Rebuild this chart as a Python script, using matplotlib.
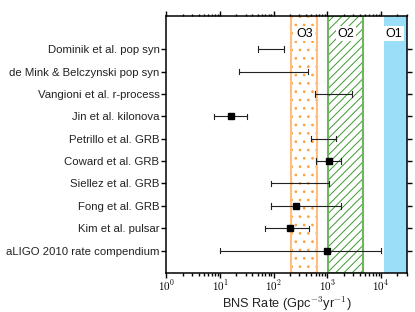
import matplotlib
matplotlib.use("Agg")
import matplotlib.pyplot as plt
import matplotlib.transforms as mtransforms
import numpy as np

plt.rcParams['font.family'] = ['Liberation Sans', 'DejaVu Sans']
plt.rcParams['mathtext.fontset'] = 'cm'
plt.rcParams['hatch.linewidth'] = 0.7

# estimates, listed top to bottom
labels = ["Dominik et al. pop syn", "de Mink & Belczynski pop syn",
          "Vangioni et al. r-process", "Jin et al. kilonova",
          "Petrillo et al. GRB", "Coward et al. GRB", "Siellez et al. GRB",
          "Fong et al. GRB", "Kim et al. pulsar", "aLIGO 2010 rate compendium"]
rate_lo = [50, 23, 580, 7.7, 490, 600, 88, 87, 69, 10]
rate_hi = [158, 435, 2840, 32, 1440, 1780, 1080, 1780, 460, 10000]
rate_mid = [None, None, None, 15.7, None, 1065, None, 260, 200, 1000]

# observing run bands
run_names = ["O3", "O2", "O1"]
run_lo = [210, 1020, 11300]
run_hi = [650, 4650, 3e4]

fig = plt.figure(figsize=(4.15, 3.12), dpi=100)
ax = fig.add_axes([0.401, 0.125, 0.579, 0.825])

n = len(labels)
ypos = np.arange(n)[::-1]

# O3: dotted orange band
ax.axvspan(run_lo[0], run_hi[0], facecolor='none', edgecolor='#FF9F3A',
           hatch='..', linewidth=0, zorder=1)
ax.axvspan(run_lo[0], run_hi[0], facecolor='none', edgecolor='#FFBE7E',
           linewidth=1.5, zorder=1)
# O2: hatched green band
ax.axvspan(run_lo[1], run_hi[1], facecolor='none', edgecolor='#3E9A2E',
           hatch='////', linewidth=0, zorder=1)
ax.axvspan(run_lo[1], run_hi[1], facecolor='none', edgecolor='#6DB560',
           linewidth=1.5, zorder=1)
# O1: solid blue
ax.axvspan(run_lo[2], run_hi[2], facecolor='#9ADEF8', edgecolor='none', zorder=1)

trans = mtransforms.blended_transform_factory(ax.transData, ax.transAxes)
for name, lo, hi in zip(run_names, run_lo, run_hi):
    xc = np.sqrt(lo * min(hi, 2.6e4))
    ax.text(xc, 0.93, name, transform=trans, ha='center', va='center',
            fontsize=9, zorder=3,
            bbox=dict(facecolor='white', edgecolor='none', pad=1.2))

for y, lo, hi, mid in zip(ypos, rate_lo, rate_hi, rate_mid):
    ax.plot([lo, hi], [y, y], color='#222222', lw=0.8, zorder=4)
    ax.plot([lo, lo], [y - 0.12, y + 0.12], color='#222222', lw=0.8, zorder=4)
    ax.plot([hi, hi], [y - 0.12, y + 0.12], color='#222222', lw=0.8, zorder=4)
    if mid is not None:
        ax.plot([mid], [y], 's', color='black', markersize=4, zorder=5)

ax.set_xscale('log')
ax.set_xlim(1, 3e4)
ax.set_ylim(-1, 10.5)
ax.set_yticks(ypos)
ax.set_yticklabels(labels, fontsize=8.2, color='#222222')
ax.set_xticks([1, 10, 100, 1000, 10000])
ax.set_xticklabels([r'$10^{0}$', r'$10^{1}$', r'$10^{2}$', r'$10^{3}$', r'$10^{4}$'],
                   fontsize=8)
ax.set_xlabel(r'BNS Rate (Gpc$^{-3}$yr$^{-1}$)', fontsize=9.2, labelpad=1,
              color='#222222')

ax.tick_params(which='both', direction='out', top=True, right=True,
               width=1.0)
ax.tick_params(which='major', length=3.5, pad=1.5)
ax.tick_params(axis='x', which='major', pad=0.5)
ax.tick_params(which='minor', length=1.8)
ax.tick_params(axis='y', which='minor', left=False, right=False)
for s in ax.spines.values():
    s.set_linewidth(1.1)

fig.savefig('out.png', dpi=100)
